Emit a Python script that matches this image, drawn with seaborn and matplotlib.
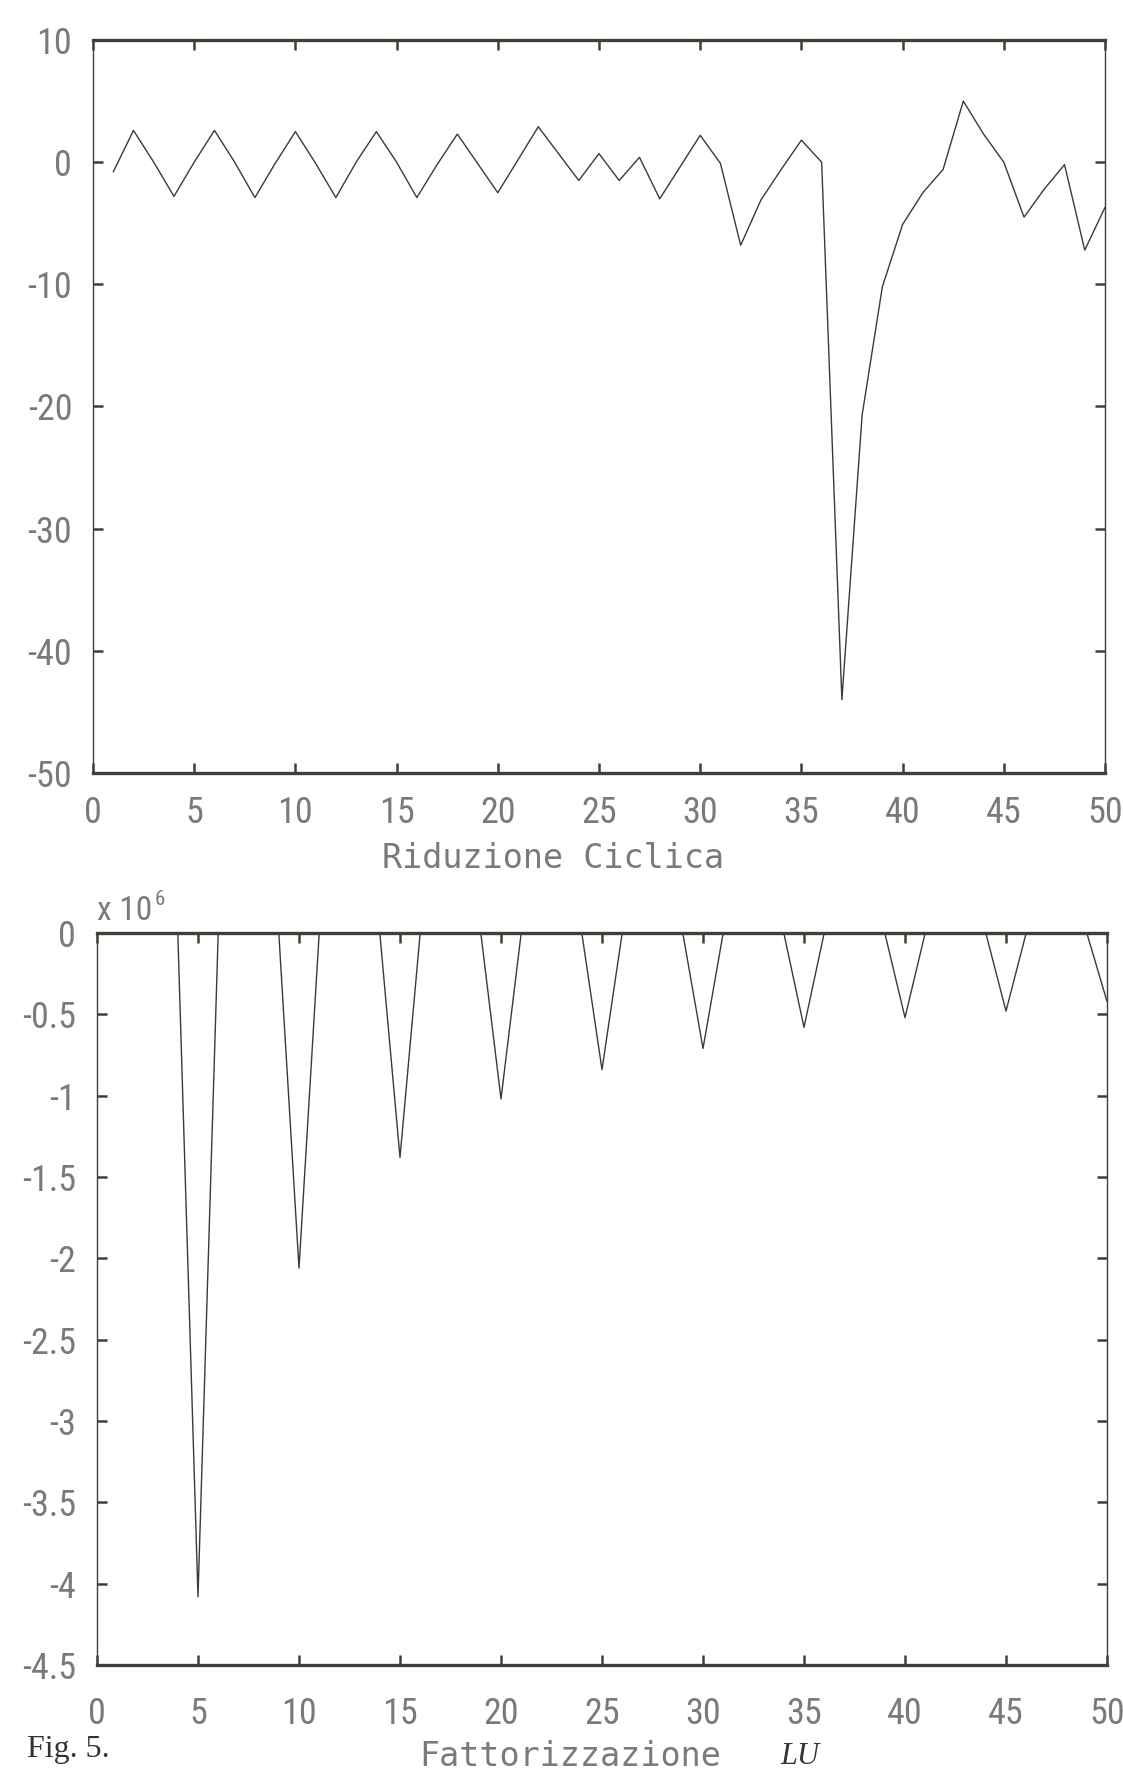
import matplotlib
matplotlib.use("Agg")
import matplotlib.pyplot as plt
from matplotlib import font_manager
from matplotlib.font_manager import FontProperties
import numpy as np
import pandas as pd
import seaborn as sns

# ---------------- data ----------------
x_top = list(range(1, 51))
y_top = [-0.8, 2.6, 0.0, -2.8, 0.0, 2.6, 0.0, -2.9, -0.1, 2.5,
         -0.1, -2.9, 0.0, 2.5, 0.0, -2.9, -0.2, 2.3, -0.1, -2.5,
         0.2, 2.9, 0.7, -1.5, 0.7, -1.5, 0.4, -3.0, -0.4, 2.2,
         -0.1, -6.8, -3.1, -0.6, 1.8, 0.0, -44.0, -20.7, -10.2, -5.1,
         -2.5, -0.6, 5.0, 2.3, 0.0, -4.5, -2.2, -0.2, -7.2, -3.7]

x_bot = list(range(1, 51))
y_bot = [0, 0, 0, 0, -4.08, 0, 0, 0, 0, -2.06,
         0, 0, 0, 0, -1.38, 0, 0, 0, 0, -1.02,
         0, 0, 0, 0, -0.84, 0, 0, 0, 0, -0.71,
         0, 0, 0, 0, -0.58, 0, 0, 0, 0, -0.52,
         0, 0, 0, 0, -0.48, 0, 0, 0, 0, -0.42]

x_ticks = [0, 5, 10, 15, 20, 25, 30, 35, 40, 45, 50]
top_yticks = [10, 0, -10, -20, -30, -40, -50]
bot_yticks = [0, -0.5, -1, -1.5, -2, -2.5, -3, -3.5, -4, -4.5]
bot_yticklabels = ["0", "-0.5", "-1", "-1.5", "-2", "-2.5", "-3", "-3.5", "-4", "-4.5"]
top_xlabel = "Riduzione Ciclica"
bot_xlabel = "Fattorizzazione"
bot_xlabel_it = "LU"
scale_base = "x 10"
scale_exp = "6"
caption = "Fig. 5."

# ---------------- style ----------------
sns.set_theme(style="white")
fm = font_manager.fontManager
names = {f.name for f in fm.ttflist}

# look for a narrow sans face (plotter-like tall narrow digits)
narrow = None
pref = ["Liberation Sans Narrow", "Roboto Condensed", "Open Sans Condensed",
        "DejaVu Sans Condensed", "Noto Sans Condensed"]
for p in pref:
    for f in fm.ttflist:
        if f.name == p and f.style == "normal" and str(f.weight) in ("400", "normal", "regular"):
            narrow = f.fname
            break
    if narrow:
        break
if narrow is None:
    for f in fm.ttflist:
        if (f.stretch in ("condensed", "semi-condensed")) and f.style == "normal" \
                and str(f.weight) in ("400", "normal", "regular") \
                and any(k in f.name for k in ("DejaVu Sans", "Noto Sans", "Roboto", "Open Sans")) \
                and "Mono" not in f.name and "CJK" not in f.name:
            narrow = f.fname
            break

if narrow is not None:
    tick_fp = FontProperties(fname=narrow, size=26)
    sc_fp = FontProperties(fname=narrow, size=24)
    ex_fp = FontProperties(fname=narrow, size=15)
else:
    tick_fp = FontProperties(family="DejaVu Sans Mono", size=20)
    sc_fp = FontProperties(family="DejaVu Sans Mono", size=18)
    ex_fp = FontProperties(family="DejaVu Sans Mono", size=12)
lab_fp = FontProperties(family="DejaVu Sans Mono", size=24)

serif_font = "Liberation Serif" if "Liberation Serif" in names else "DejaVu Serif"
plt.rcParams["font.family"] = ["DejaVu Sans Mono", "DejaVu Sans"]
plt.rcParams["axes.unicode_minus"] = False

W, H = 1123, 1772
fig = plt.figure(figsize=(W / 100, H / 100), dpi=100)
fig.patch.set_facecolor("white")


def rect(l, t, r, b):
    return [l / W, 1 - b / H, (r - l) / W, (b - t) / H]


ax1 = fig.add_axes(rect(93, 40, 1105, 773))
ax2 = fig.add_axes(rect(97, 933, 1107, 1665))

line_col = "#3a3a3a"
spine_col = "#3d4236"
lab_col = "#7a7a7a"

df_top = pd.DataFrame({"x": x_top, "y": y_top})
df_bot = pd.DataFrame({"x": x_bot, "y": y_bot})
sns.lineplot(data=df_top, x="x", y="y", ax=ax1, color=line_col, linewidth=1.0)
sns.lineplot(data=df_bot, x="x", y="y", ax=ax2, color=line_col, linewidth=1.0)

ax1.set_ylim(-50, 10)
ax1.set_yticks(top_yticks)
ax1.set_yticklabels([str(t) for t in top_yticks])

ax2.set_ylim(-4.5, 0)
ax2.set_yticks(bot_yticks)
ax2.set_yticklabels(bot_yticklabels)

for ax in (ax1, ax2):
    ax.set_xlim(0, 50)
    ax.set_xticks(x_ticks)
    ax.set_xticklabels([str(t) for t in x_ticks])
    ax.set_xlabel("")
    ax.set_ylabel("")
    ax.set_facecolor("white")
    for side in ("top", "bottom"):
        ax.spines[side].set_linewidth(2.4)
        ax.spines[side].set_color(spine_col)
    for side in ("left", "right"):
        ax.spines[side].set_linewidth(1.0)
        ax.spines[side].set_color(spine_col)
    ax.tick_params(axis="both", which="major", direction="in", length=7, width=1.8,
                   color=spine_col, top=True, right=True, bottom=True, left=True,
                   labelcolor=lab_col)
    ax.tick_params(axis="y", pad=15)
    for lbl in ax.get_xticklabels() + ax.get_yticklabels():
        lbl.set_fontproperties(tick_fp)

ax1.tick_params(axis="x", pad=16)
ax2.tick_params(axis="x", pad=22)

# labels
fig.text(553 / W, 1 - 858 / H, top_xlabel, ha="center", va="center",
         fontproperties=lab_fp, color=lab_col)
fig.text(570 / W, 1 - 1756 / H, bot_xlabel, ha="center", va="center",
         fontproperties=lab_fp, color=lab_col)
fig.text(800 / W, 1 - 1756 / H, bot_xlabel_it, ha="center", va="center",
         fontsize=22, color="#333333", family=[serif_font, "DejaVu Serif"], style="italic")
base = fig.text(97 / W, 1 - 920 / H, scale_base, ha="left", va="baseline",
                fontproperties=sc_fp, color=lab_col)
ax2.annotate(scale_exp, xy=(1.0, 0.55), xycoords=base, xytext=(2, 0),
             textcoords="offset points", ha="left", va="bottom",
             fontproperties=ex_fp, color=lab_col, annotation_clip=False)
fig.text(27 / W, 1 - 1757 / H, caption, ha="left", va="baseline",
         fontsize=23, color="#333333", family=[serif_font, "DejaVu Serif"])

fig.savefig("out.png", dpi=100, facecolor="white")
